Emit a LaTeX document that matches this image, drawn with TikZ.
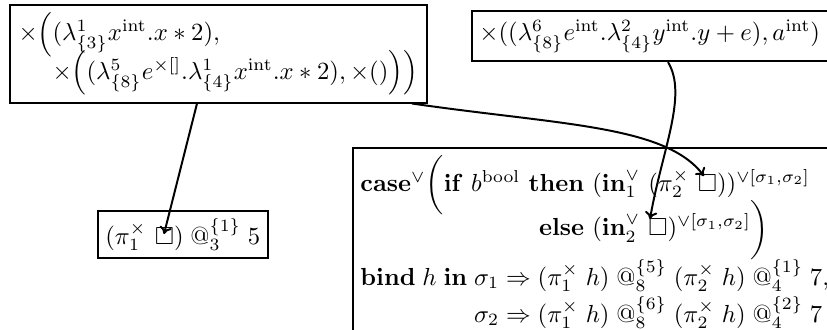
\documentclass[tikz,border=0pt]{standalone}
\usepackage{amsmath,amssymb}
\usetikzlibrary{arrows.meta}
\tikzset{
  box/.style={draw, line width=0.8pt, inner sep=3pt, align=left},
  link/.style={line width=0.8pt, -{To[length=3pt,width=5pt]}},
}
\begin{document}
\begin{tikzpicture}[x=0.405pt,y=-0.405pt]
\useasboundingbox (0,0) rectangle (827,329);
\clip (0,0) rectangle (827,329);
\node[box, anchor=north west, inner xsep=3.5pt, inner ysep=3pt] (tl) at (9,4) {%
$\times\Big((\lambda^{1}_{\{3\}} x^{\mathrm{int}}.x * 2),$\\[-3.5pt]
$\hphantom{\times\Big(}\mathord{\times}\Big((\lambda^{5}_{\{8\}} e^{\times[]}.\lambda^{1}_{\{4\}} x^{\mathrm{int}}.x*2), \times()\Big)\Big)$};
\node[box, anchor=north west, inner ysep=3.5pt] (tr) at (471,10) {%
$\times((\lambda^{6}_{\{8\}} e^{\mathrm{int}}.\lambda^{2}_{\{4\}} y^{\mathrm{int}}.y+e), a^{\mathrm{int}})$};
\node[box, anchor=north west] (bl) at (97,210) {%
$(\pi_1^{\times}\ \square)\;@_3^{\{1\}}\;5$};
\node[box, anchor=north west] (br) at (352,147) {%
$\begin{array}{@{}l@{}}
\mathbf{case}^{\vee}\bigg(\begin{array}[t]{@{}r@{\ }l@{}}
\mathbf{if}\ b^{\mathrm{bool}}\ \mathbf{then} & (\mathbf{in}_1^{\vee}\ (\pi_2^{\times}\ \square))^{\vee[\sigma_1,\sigma_2]}\\
\mathbf{else} & (\mathbf{in}_2^{\vee}\ \square)^{\vee[\sigma_1,\sigma_2]}\bigg)
\end{array}\\
\mathbf{bind}\;h\;\mathbf{in}\;\begin{array}[t]{@{}l@{}}
\sigma_1 \Rightarrow (\pi_1^{\times}\;h)\;@_8^{\{5\}}\;(\pi_2^{\times}\;h)\;@_4^{\{1\}}\;7,\\[1pt]
\sigma_2 \Rightarrow (\pi_1^{\times}\;h)\;@_8^{\{6\}}\;(\pi_2^{\times}\;h)\;@_4^{\{2\}}\;7
\end{array}
\end{array}$};
\coordinate (sq1) at (164,234);
\coordinate (sq2) at (704,176);
\coordinate (sq3) at (650,219);
\draw[link] (tl.south -| 197,0) -- (sq1);
\draw[link] (tl.south -| 412,0) .. controls (560,125) and (665,125) .. (sq2);
\draw[link] (tr.south -| 668,0) .. controls (688,95) and (662,150) .. (sq3);
\end{tikzpicture}
\end{document}
